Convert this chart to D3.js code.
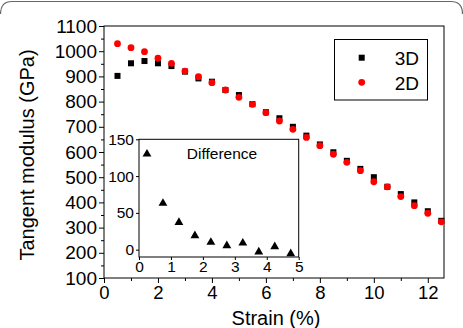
<!DOCTYPE html>
<html><head><meta charset="utf-8">
<script src="https://cdn.jsdelivr.net/npm/d3@7"></script>
<style>
body{margin:0;background:#fff;}
svg{display:block;font-family:"Liberation Sans",Arial,Helvetica,sans-serif;}
svg text{font-family:"Liberation Sans",Arial,Helvetica,sans-serif;}
</style></head>
<body><svg id="c" width="463" height="328"></svg>
<script>
const strain = [0.5,1,1.5,2,2.5,3,3.5,4,4.5,5,5.5,6,6.5,7,7.5,8,8.5,9,9.5,10,10.5,11,11.5,12,12.5];
const modulus3D = [902,952,961,952,941,919,892,879,846,826,790,758,734,700,665,630,599,565,533,500,462,433,400,365,327];
const modulus2D = [1030,1014,998,972,952,921,899,875,846,817,789,756,723,690,658,625,591,559,526,482,462,423,387,357,323];
const diffX = [0.25,0.75,1.25,1.75,2.25,2.75,3.25,3.75,4.25,4.75];
const diffY = [130,63,37,19,10,5.5,9,-3,4,-5.5];
const xTicks = [0,2,4,6,8,10,12];
const yTicks = [100,200,300,400,500,600,700,800,900,1000,1100];
const insetXTicks = [0,1,2,3,4,5];
const insetYTicks = [0,50,100,150];
const seriesNames = ["3D","2D"];

const svg = d3.select("#c");
const fmt = d3.format("d");
// frame top
svg.append("path").attr("d","M0.5,14 Q0.5,1.5 12,1.5 L451,1.5 Q462.5,1.5 462.5,14")
  .attr("fill","none").attr("stroke","#666").attr("stroke-width",1.2);

const L=104, R=444, T=26, B=278;
const x = d3.scaleLinear().domain([0,12.6]).range([L,R]);
const y = d3.scaleLinear().domain([100,1100]).range([B,T]);

svg.append("rect").attr("x",L).attr("y",T).attr("width",R-L).attr("height",B-T)
  .attr("fill","none").attr("stroke","#000").attr("stroke-width",1);

// x axis
const gx = svg.append("g").attr("transform",`translate(0,${B})`)
  .call(d3.axisBottom(x).tickValues(xTicks).tickFormat(fmt).tickSize(5).tickSizeOuter(0).tickPadding(3));
gx.select(".domain").remove();
gx.selectAll("text").attr("font-size",18.5).attr("fill","#000");
svg.append("g").attr("transform",`translate(0,${B})`)
  .call(d3.axisBottom(x).tickValues(d3.range(1,13,2)).tickSize(3).tickFormat(""))
  .select(".domain").remove();
// y axis
const gy = svg.append("g").attr("transform",`translate(${L},0)`)
  .call(d3.axisLeft(y).tickValues(yTicks).tickFormat(fmt).tickSize(5).tickSizeOuter(0).tickPadding(2));
gy.select(".domain").remove();
gy.selectAll("text").attr("font-size",19).attr("fill","#000");
svg.append("g").attr("transform",`translate(${L},0)`)
  .call(d3.axisLeft(y).tickValues(d3.range(150,1100,100)).tickSize(3).tickFormat(""))
  .select(".domain").remove();

// axis titles
svg.append("text").attr("x",(L+R)/2+2).attr("y",325).attr("text-anchor","middle")
  .attr("font-size",20).text("Strain (%)");
svg.append("text").attr("transform",`translate(34,${(T+B)/2+3}) rotate(-90)`).attr("text-anchor","middle")
  .attr("font-size",20).text("Tangent modulus (GPa)");

// data
const d3D = strain.map((s,i)=>({s,v:modulus3D[i]}));
const d2D = strain.map((s,i)=>({s,v:modulus2D[i]}));
svg.append("g").selectAll("rect").data(d3D).join("rect")
  .attr("x",d=>x(d.s)-3).attr("y",d=>y(d.v)-3).attr("width",6).attr("height",6).attr("fill","#000");
svg.append("g").selectAll("circle").data(d2D).join("circle")
  .attr("cx",d=>x(d.s)).attr("cy",d=>y(d.v)).attr("r",3.4).attr("fill","#ff0000");

// legend
const lg = svg.append("g");
lg.append("rect").attr("x",334.5).attr("y",39.5).attr("width",93).attr("height",60.5)
  .attr("fill","#fff").attr("stroke","#000");
lg.append("rect").attr("x",358.7).attr("y",54.7).attr("width",6).attr("height",6).attr("fill","#000");
lg.append("circle").attr("cx",361.7).attr("cy",82.3).attr("r",3.4).attr("fill","#ff0000");
lg.append("text").attr("x",419).attr("y",64.5).attr("text-anchor","end").attr("font-size",19).text(seriesNames[0]);
lg.append("text").attr("x",419).attr("y",89.5).attr("text-anchor","end").attr("font-size",19).text(seriesNames[1]);

// inset
const iL=139, iR=298.7, iT=139.3, iB=257;
const ix = d3.scaleLinear().domain([0,5]).range([iL,iR]);
const iy = d3.scaleLinear().domain([-10,150]).range([iB,iT]);
svg.append("rect").attr("x",iL).attr("y",iT).attr("width",iR-iL).attr("height",iB-iT)
  .attr("fill","#fff").attr("stroke","#000").attr("stroke-width",1);
const igx = svg.append("g").attr("transform",`translate(0,${iB})`)
  .call(d3.axisBottom(ix).tickValues(insetXTicks).tickFormat(fmt).tickSize(3).tickSizeOuter(0).tickPadding(1));
igx.select(".domain").remove();
igx.selectAll("text").attr("font-size",15.5).attr("fill","#000");
const igy = svg.append("g").attr("transform",`translate(${iL},0)`)
  .call(d3.axisLeft(iy).tickValues(insetYTicks).tickFormat(fmt).tickSize(3).tickSizeOuter(0).tickPadding(2));
igy.select(".domain").remove();
igy.selectAll("text").attr("font-size",15.5).attr("fill","#000");
svg.append("text").attr("x",222).attr("y",159).attr("text-anchor","middle").attr("font-size",15.5).text("Difference");
const tri = d3.symbol().type(d3.symbolTriangle).size(34);
svg.append("g").selectAll("path").data(diffX.map((s,i)=>({s,v:diffY[i]}))).join("path")
  .attr("d",tri).attr("transform",d=>`translate(${ix(d.s)},${iy(d.v)})`).attr("fill","#000");
</script></body></html>
